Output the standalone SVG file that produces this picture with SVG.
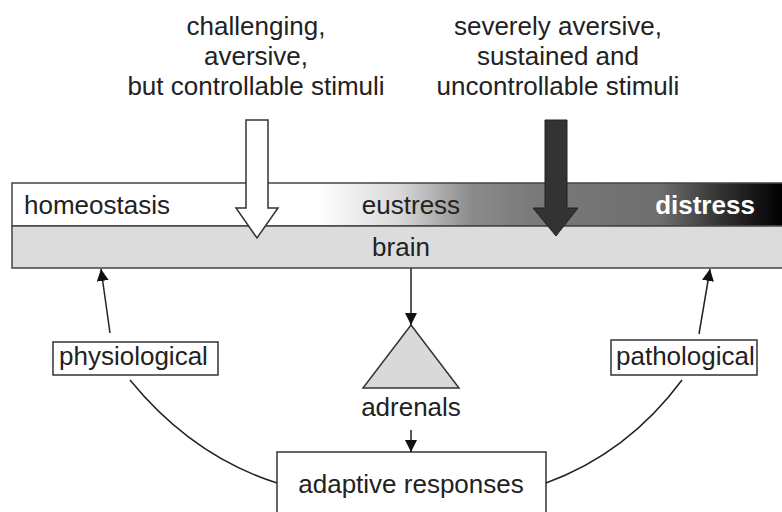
<svg xmlns="http://www.w3.org/2000/svg" width="782" height="512" viewBox="0 0 782 512">
<style>
text{font-family:"Liberation Sans",Arial,sans-serif;font-size:26px;fill:#222;}
.c{text-anchor:middle;}
.box{fill:#fff;stroke:#333;stroke-width:1.5;}
.ln{fill:none;stroke:#222;stroke-width:1.5;}
</style>
<defs>
<linearGradient id="g" gradientUnits="userSpaceOnUse" x1="12" y1="0" x2="782" y2="0">
<stop offset="0" stop-color="#fff"/>
<stop offset="0.399" stop-color="#fff"/>
<stop offset="0.503" stop-color="#d8d8d8"/>
<stop offset="0.595" stop-color="#8c8c8c"/>
<stop offset="0.673" stop-color="#7a7a7a"/>
<stop offset="0.842" stop-color="#6e6e6e"/>
<stop offset="0.92" stop-color="#333"/>
<stop offset="1" stop-color="#000"/>
</linearGradient>
<marker id="ah" viewBox="0 0 10 10" refX="10" refY="5" markerWidth="7" markerHeight="7" markerUnits="userSpaceOnUse" orient="auto" overflow="visible">
<path d="M0,0 L10,5 L0,10 z" fill="#111"/>
</marker>
<marker id="ahL" viewBox="0 0 10 10" refX="10" refY="5" markerWidth="12" markerHeight="12" markerUnits="userSpaceOnUse" orient="auto">
<path d="M0,0 L10,5 L0,10 z" fill="#111"/>
</marker>
</defs>

<g id="top-texts">
<text class="c" x="256" y="35">challenging,</text>
<text class="c" x="256" y="65">aversive,</text>
<text class="c" x="256" y="95">but controllable stimuli</text>
<text class="c" x="558" y="35">severely aversive,</text>
<text class="c" x="558" y="65">sustained and</text>
<text class="c" x="558" y="95">uncontrollable stimuli</text>
</g>

<g id="stress-band">
<rect x="12" y="183" width="780" height="43" fill="url(#g)" stroke="#444" stroke-width="1.5"/>
<text x="24" y="214">homeostasis</text>
<text class="c" x="411" y="214">eustress</text>
<text class="c" x="705" y="214" style="font-weight:bold;fill:#fff">distress</text>
</g>

<g id="brain">
<rect x="12" y="226" width="780" height="42" fill="#dcdcdc" stroke="#444" stroke-width="1.5"/>
<text class="c" x="401" y="256">brain</text>
</g>

<g id="arrow-controllable">
<path d="M246,120 H268 V208 H278 L257,238 L236,208 H246 Z" fill="#fff" stroke="#333" stroke-width="1.5"/>
</g>
<g id="arrow-uncontrollable">
<path d="M545,120 H567 V208 H578 L556,236 L533,208 H545 Z" fill="#333" stroke="#222" stroke-width="1"/>
</g>

<g id="adrenals">
<polygon points="411,325 459,388 363,388" fill="#d9d9d9" stroke="#333" stroke-width="1.5"/>
<text class="c" x="411" y="416">adrenals</text>
</g>

<g id="adaptive">
<rect class="box" x="277" y="452" width="269" height="70"/>
<text class="c" x="411" y="493">adaptive responses</text>
</g>

<g id="physiological">
<rect class="box" x="53" y="342" width="165" height="33"/>
<text x="59" y="365">physiological</text>
</g>

<g id="pathological">
<rect class="box" x="611" y="340" width="146" height="35"/>
<text x="616" y="365">pathological</text>
</g>

<g id="connectors">
<line class="ln" x1="411" y1="268" x2="411" y2="325" marker-end="url(#ahL)"/>
<line class="ln" x1="411" y1="430" x2="411" y2="452" marker-end="url(#ahL)"/>
<path class="ln" d="M277,483 Q192,456 130,380"/>
<path class="ln" d="M546,483 Q628,453 682,380"/>
<line class="ln" x1="110" y1="333" x2="101" y2="269" marker-end="url(#ahL)"/>
<line class="ln" x1="699" y1="334" x2="710" y2="269" marker-end="url(#ahL)"/>
</g>
</svg>
